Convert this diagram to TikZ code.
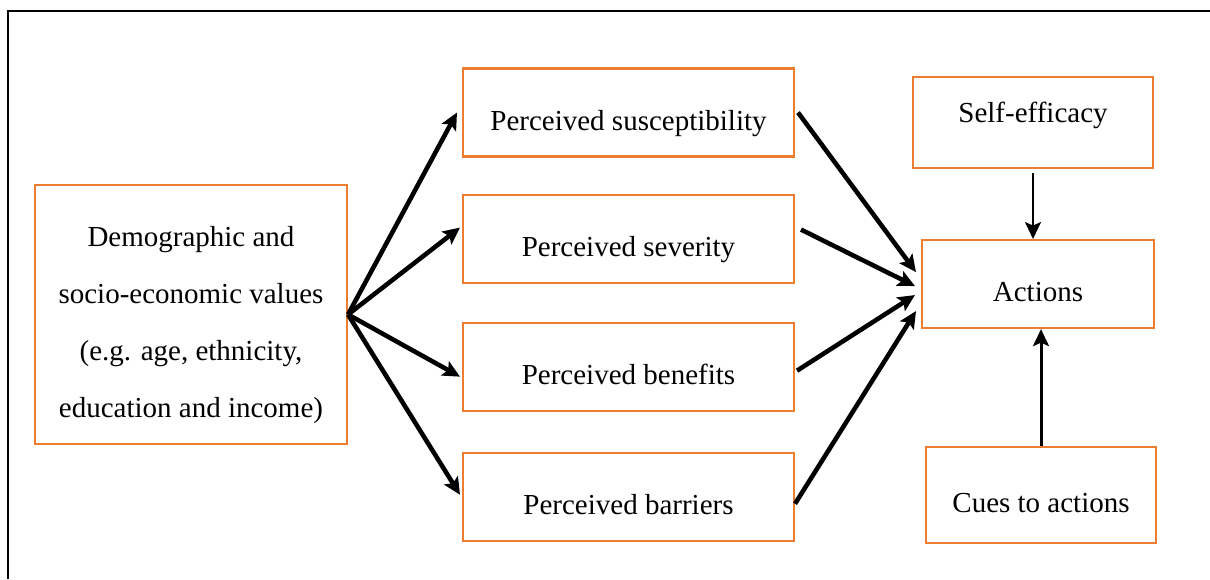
\documentclass[tikz,border=0pt]{standalone}
\usepackage{fontspec}
\setmainfont{Liberation Serif}
\usetikzlibrary{positioning,arrows.meta}
\definecolor{hbmorange}{RGB}{237,125,49}

\begin{document}
\begin{tikzpicture}[
  x=0.02cm, y=-0.02cm,
  hbmbox/.style={
    rectangle,
    draw=hbmorange,
    line width=1.2pt,
    fill=white,
    inner sep=0pt,
    minimum width=6.62cm,
    minimum height=1.76cm,
    text height=24pt,
    text depth=4pt,
    font=\fontsize{16.5}{32.4}\selectfont},
  hbmarrow/.style={
    -{Stealth[length=3.4mm,width=3.2mm,inset=0.7mm]},
    line width=2.6pt},
  ]
  \useasboundingbox (0,0) rectangle (1210,579);
  \draw[line width=1.3pt] (8,579) |- (1210,11);

  \node[
  hbmbox,
  minimum width=6.24cm,
  minimum height=5.18cm,
  text height=,
  text depth=,
  align=center] (demo) at (191,314.5)
  {\rule{0pt}{23pt}Demographic and\\socio-economic values\\(e.g. age, ethnicity,\\education and income)};

  \node[hbmbox] (susc) at (628.5,112.5) {Perceived susceptibility};
  \node[hbmbox, below=0.72cm of susc] (sev) {Perceived severity};
  \node[hbmbox, below=0.76cm of sev] (ben) {Perceived benefits};
  \node[hbmbox, below=0.8cm of ben] (bar) {Perceived barriers};

  \node[
  hbmbox,
  minimum width=4.8cm,
  minimum height=1.82cm,
  text height=11.5pt,
  text depth=11.5pt] (self) at (1033,122.5) {Self-efficacy};

  \node[
  hbmbox,
  minimum width=4.64cm,
  below=1.4cm of self,
  xshift=0.1cm] (act) {Actions};

  \node[
  hbmbox,
  minimum width=4.6cm,
  minimum height=1.92cm,
  below=2.34cm of act,
  xshift=0.06cm] (cues) {Cues to actions};

  \draw[hbmarrow] (demo.east)--([xshift=-0.1cm]susc.west);
  \draw[hbmarrow] (demo.east)--([xshift=-0.04cm,yshift=0.22cm]sev.west);
  \draw[hbmarrow] (demo.east)--([xshift=-0.04cm,yshift=-0.2cm]ben.west);
  \draw[hbmarrow] (demo.east)--([xshift=-0.04cm,yshift=0.04cm]bar.west);

  \draw[hbmarrow] ([xshift=0.06cm]susc.east)--([xshift=-0.1cm,yshift=0.24cm]act.west);
  \draw[hbmarrow] ([xshift=0.12cm,yshift=0.18cm]sev.east)--([xshift=-0.12cm,yshift=-0.04cm]act.west);
  \draw[hbmarrow] ([xshift=0.04cm,yshift=-0.08cm]ben.east)--([xshift=-0.12cm,yshift=-0.22cm]act.west);
  \draw[hbmarrow] ([yshift=-0.14cm]bar.east)--([xshift=-0.1cm,yshift=-0.54cm]act.west);

  \draw[hbmarrow, line width=1.1pt] ([yshift=-0.08cm]self.south)--(self.south |- act.north);
  \draw[hbmarrow, line width=1.7pt] (cues.north)--(cues.north |- act.south);
\end{tikzpicture}
\end{document}
